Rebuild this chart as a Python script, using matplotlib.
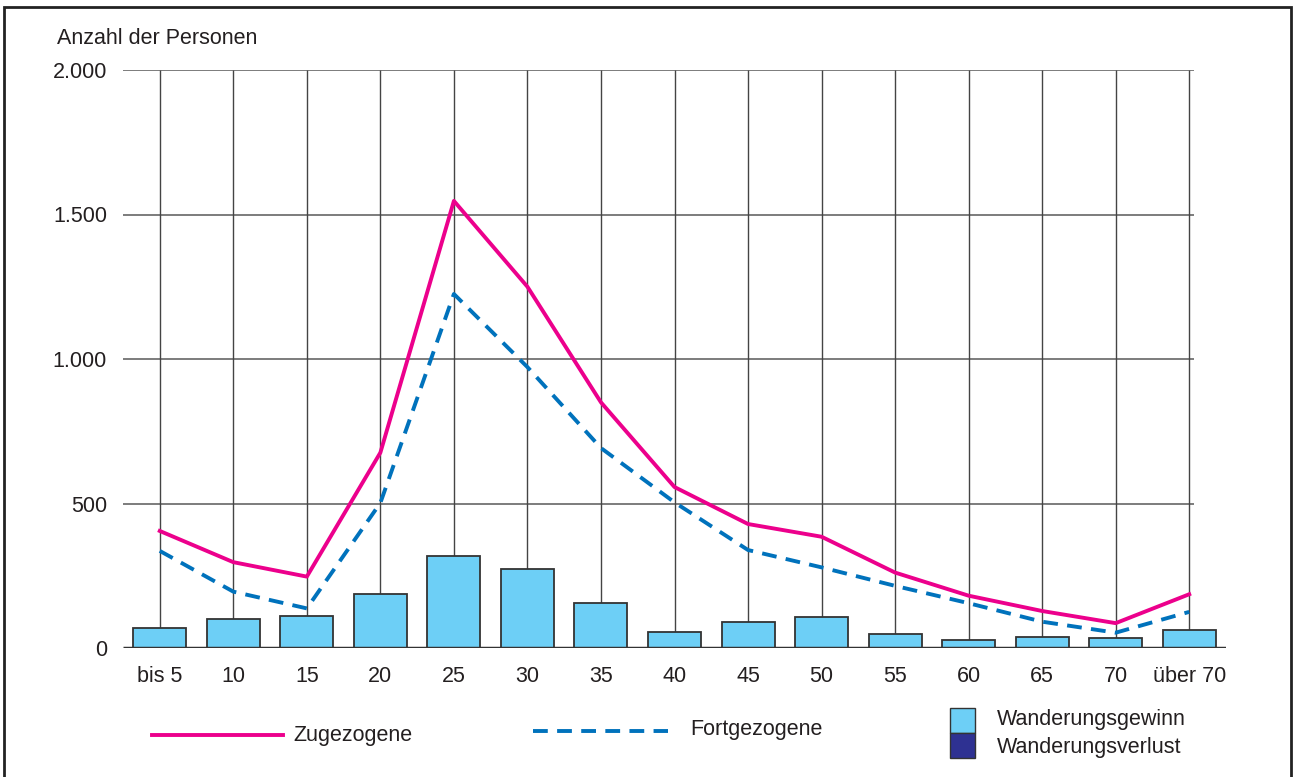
import matplotlib
matplotlib.use("Agg")
import matplotlib.pyplot as plt
from matplotlib.patches import Rectangle
from matplotlib.lines import Line2D

plt.rcParams['font.family'] = ['Liberation Sans', 'DejaVu Sans']

categories = ["bis 5", "10", "15", "20", "25", "30", "35", "40", "45", "50",
              "55", "60", "65", "70", "über 70"]
zugezogene = [405, 297, 247, 676, 1547, 1250, 850, 557, 429, 385, 261, 181, 128, 86, 186]
fortgezogene = [336, 195, 137, 502, 1225, 972, 692, 504, 339, 279, 215, 155, 91, 53, 125]
gewinn = [68, 100, 110, 186, 317, 273, 156, 54, 91, 106, 50, 29, 38, 34, 61]
yticks = [0, 500, 1000, 1500, 2000]
ytick_labels = ["0", "500", "1.000", "1.500", "2.000"]

PINK = '#EC008C'
BLUE = '#0072BC'
LIGHT = '#6DCFF6'
DARK = '#2E3192'
FS = 15.5
TXT = '#231F20'

W, H = 1300, 777
fig = plt.figure(figsize=(W / 100, H / 100), dpi=100)

# outer frame
fig.add_artist(Rectangle((4 / W, -0.02), (1291 - 4) / W, 1.02 - 7 / H,
                         transform=fig.transFigure, fill=False,
                         edgecolor='#222222', linewidth=2.0))

ax = fig.add_axes([123 / W, 1 - 648 / H, (1226 - 123) / W, (648 - 70) / H])
x = list(range(len(categories)))
ax.set_xlim(-0.5, len(categories) - 0.5)
ax.set_ylim(0, 2000)

# grid
ax.hlines(yticks[1:], -0.5, len(categories) - 1 + 0.07, colors='#666666', linewidth=1.2, zorder=1)
ax.vlines(x, 0, 2000, colors='#444444', linewidth=1.0, zorder=1)

# bars
ax.bar(x, gewinn, width=0.72, color=LIGHT, edgecolor='#333333', linewidth=1.3, zorder=2)

# baseline
ax.hlines([0], -0.5, len(categories) - 0.5, colors='#333333', linewidth=2.5, zorder=3)

# lines
ax.plot(x, fortgezogene, color=BLUE, linewidth=2.8, linestyle=(0, (3.8, 2.4)), zorder=4)
ax.plot(x, zugezogene, color=PINK, linewidth=2.8, zorder=5)

for s in ax.spines.values():
    s.set_visible(False)
ax.set_xticks(x)
ax.set_xticklabels(categories, fontsize=FS, color=TXT)
ax.set_yticks(yticks)
ax.set_yticklabels(ytick_labels, fontsize=FS, color=TXT)
ax.tick_params(length=0)
ax.tick_params(axis='x', pad=13)
ax.tick_params(axis='y', pad=11.5)

fig.text(57 / W, 1 - 38 / H, "Anzahl der Personen", fontsize=FS, color=TXT,
         ha='left', va='center')

# legend
fig.add_artist(Line2D([152 / W, 283 / W], [1 - 735 / H] * 2, transform=fig.transFigure,
                      color=PINK, linewidth=2.8))
fig.text(293 / W, 1 - 735 / H, "Zugezogene", fontsize=FS, color=TXT, ha='left', va='center')
fig.add_artist(Line2D([533 / W, 668 / W], [1 - 731 / H] * 2, transform=fig.transFigure,
                      color=BLUE, linewidth=2.8, linestyle=(0, (3.8, 2.4))))
fig.text(690 / W, 1 - 729 / H, "Fortgezogene", fontsize=FS, color=TXT, ha='left', va='center')
fig.add_artist(Rectangle((950 / W, 1 - 733 / H), 25 / W, 25 / H, transform=fig.transFigure,
                         facecolor=LIGHT, edgecolor='#333333', linewidth=1.0))
fig.add_artist(Rectangle((950 / W, 1 - 758 / H), 25 / W, 25 / H, transform=fig.transFigure,
                         facecolor=DARK, edgecolor='#333333', linewidth=1.0))
fig.text(997 / W, 1 - 719 / H, "Wanderungsgewinn", fontsize=FS, color=TXT, ha='left', va='center')
fig.text(997 / W, 1 - 747 / H, "Wanderungsverlust", fontsize=FS, color=TXT, ha='left', va='center')

fig.savefig("out.png", dpi=100)
